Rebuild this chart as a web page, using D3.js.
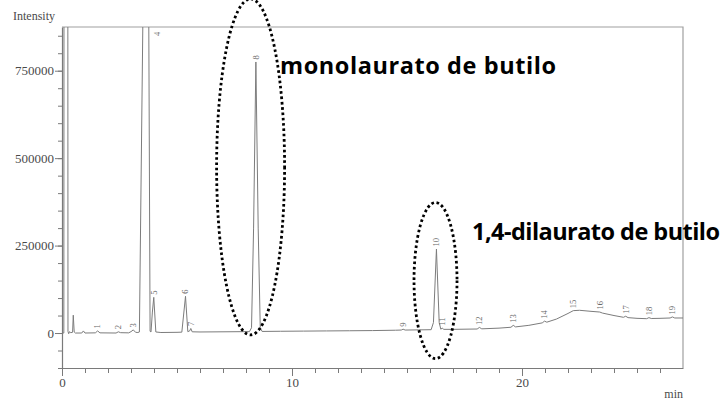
<!DOCTYPE html>
<html>
<head>
<meta charset="utf-8">
<script src="https://cdn.jsdelivr.net/npm/d3@7"></script>
<style>
  html, body { margin: 0; padding: 0; background: #fff; }
  svg { display: block; }
</style>
</head>
<body>
<svg id="chart" width="725" height="402"></svg>
<script>
// ---- data ----
// chromatogram trace: [retention time (min), intensity]
const trace = [
  [0.00, 0], [0.08, 0], [0.10, 3000000], [0.24, 3000000], [0.26, 5000],
  [0.29, -2000], [0.33, 4000], [0.38, 1000], [0.46, 2000], [0.49, 51000],
  [0.53, 3000], [0.58, 0], [0.86, 0], [0.93, 6000], [1.00, 0],
  [1.45, 500], [1.55, 6000], [1.65, 500], [2.35, 0], [2.45, 3500],
  [2.55, 1000], [2.90, 500], [3.00, 4000], [3.10, 9000], [3.20, 2000],
  [3.30, 1500], [3.365, 3000], [3.513, 875000], [3.60, 1500000], [3.70, 1500000],
  [3.774, 875000], [3.83, 5000], [3.87, 3000], [3.93, 60000], [3.99, 102000],
  [4.08, 3000], [4.30, 1500], [5.00, 2000], [5.21, 2500], [5.37, 105000],
  [5.47, 4000], [5.55, 6000], [5.60, 13000], [5.66, 3500], [6.00, 3000],
  [7.00, 3500], [8.00, 4000], [8.15, 4000], [8.24, 15000], [8.33, 300000],
  [8.43, 775000], [8.53, 300000], [8.62, 15000], [8.70, 4500], [9.50, 5000],
  [10.5, 5500], [11.5, 6000], [12.5, 6500], [13.5, 7000], [14.5, 8000],
  [14.75, 8500], [14.83, 11000], [14.92, 8500], [15.5, 9000], [16.05, 9500],
  [16.15, 30000], [16.28, 240000], [16.40, 30000], [16.47, 11000], [16.53, 14000],
  [16.60, 10500], [17.0, 10500], [18.05, 11500], [18.15, 16000], [18.25, 12000],
  [19.0, 14000], [19.52, 16500], [19.62, 22000], [19.72, 17500], [20.3, 22000],
  [20.88, 29000], [20.98, 34000], [21.08, 31000], [21.5, 40000], [22.0, 56000],
  [22.23, 64000], [22.5, 65000], [23.0, 62000], [23.38, 60000], [23.5, 57000],
  [24.0, 50000], [24.41, 45000], [24.51, 48000], [24.61, 44000], [25.0, 42000],
  [25.42, 41000], [25.52, 44000], [25.62, 41500], [26.0, 42000], [26.44, 43000],
  [26.54, 46000], [26.64, 43000], [27.0, 43000]
];
// peak numbers, retention times and apex intensities (null = off scale)
const peakNums    = ["1","2","3","4","5","6","7","8","9","10","11","12","13","14","15","16","17","18","19"];
const peakTimes   = [1.55, 2.45, 3.10, 3.65, 3.99, 5.37, 5.60, 8.43, 14.83, 16.28, 16.53, 18.15, 19.62, 20.98, 22.23, 23.38, 24.51, 25.52, 26.54];
const peakApex    = [6000, 3500, 9000, null, 102000, 105000, 13000, 775000, 11000, 240000, 14000, 16000, 22000, 34000, 64000, 60000, 48000, 44000, 46000];
// axes
const xDomain = [0, 27];
const yDomain = [-100000, 875000];
const xMajorTicks = [0, 10, 20];
const xMinorTicks = d3.range(0, 27, 1);
const yMajorTicks = [0, 250000, 500000, 750000];
const yMinorTicks = d3.range(-100000, 875000, 50000);
// annotations
const annotations = [
  { text: "monolaurato de butilo", width: 276 },
  { text: "1,4-dilaurato de butilo", width: 248 }
];

// ---- layout ----
const L = 62, R = 683, T = 27, B = 368;
const svg = d3.select("#chart");
const x = d3.scaleLinear().domain(xDomain).range([L, R]);
const y = d3.scaleLinear().domain(yDomain).range([B, T]);

const axisCol = "#7a7a7a";
const textCol = "#4a4a4a";
const serif = "Liberation Serif";

// frame (top + right)
svg.append("path")
  .attr("d", `M${L},${T}H${R}V${B}`)
  .attr("fill", "none").attr("stroke", "#a0a0a0").attr("stroke-width", 1.2);

// clip
svg.append("clipPath").attr("id", "clip")
  .append("rect").attr("x", L).attr("y", T).attr("width", R - L).attr("height", B - T);

function styleAxis(g) {
  g.attr("font-family", serif).attr("font-size", 13);
  g.select(".domain").attr("stroke", axisCol).attr("stroke-width", 1.2);
  g.selectAll(".tick line").attr("stroke", axisCol);
  g.selectAll("text").attr("fill", textCol);
}
// y axis
svg.append("g").attr("transform", `translate(${L},0)`)
  .call(d3.axisLeft(y).tickValues(yMinorTicks).tickSize(4).tickSizeOuter(0).tickFormat(""))
  .call(styleAxis);
svg.append("g").attr("transform", `translate(${L},0)`)
  .call(d3.axisLeft(y).tickValues(yMajorTicks).tickSize(7).tickSizeOuter(0).tickPadding(1).tickFormat(d3.format("d")))
  .call(styleAxis)
  .call(g => g.select(".domain").remove());

// x axis
svg.append("g").attr("transform", `translate(0,${B})`)
  .call(d3.axisBottom(x).tickValues(xMinorTicks).tickSize(5).tickSizeOuter(0).tickFormat(""))
  .call(styleAxis);
svg.append("g").attr("transform", `translate(0,${B})`)
  .call(d3.axisBottom(x).tickValues(xMajorTicks).tickSize(8).tickSizeOuter(0).tickPadding(2).tickFormat(d3.format("d")))
  .call(styleAxis)
  .call(g => g.select(".domain").remove());

// axis titles
svg.append("text").attr("font-family", serif).attr("x", 13).attr("y", 19.5).text("Intensity")
  .attr("font-size", 12).attr("fill", textCol);
svg.append("text").attr("font-family", serif).attr("x", R).attr("y", 398).attr("text-anchor", "end").text("min")
  .attr("font-size", 12).attr("fill", textCol);

// trace
svg.append("path")
  .datum(trace)
  .attr("clip-path", "url(#clip)")
  .attr("fill", "none")
  .attr("stroke", "#7c7c7c")
  .attr("stroke-width", 1)
  .attr("stroke-linejoin", "round")
  .attr("d", d3.line().x(d => x(d[0])).y(d => y(d[1])));

// peak labels (rotated)
const labels = svg.append("g").attr("font-family", serif).attr("font-size", 8.5);
peakNums.forEach((n, i) => {
  const px = peakApex[i] === null ? x(peakTimes[i]) + 11 : x(peakTimes[i]);
  const py = peakApex[i] === null ? T + 9 : y(peakApex[i]) - 2.5;
  labels.append("text")
    .attr("transform", `translate(${px},${py}) rotate(-90)`)
    .attr("dy", "0.33em")
    .attr("fill", "#666")
    .text(n);
});

// dotted ellipses
const ell = [
  { t: 8.20, v: 475000, rx: 34, ry: 168 },
  { t: 16.24, v: 150000, rx: 21.5, ry: 78 }
];
ell.forEach(e => {
  svg.append("ellipse")
    .attr("cx", x(e.t)).attr("cy", y(e.v))
    .attr("rx", e.rx).attr("ry", e.ry)
    .attr("fill", "none").attr("stroke", "#000")
    .attr("stroke-width", 2.8).attr("stroke-dasharray", "2.6 2.7");
});

// annotation texts
svg.append("text").attr("font-family", "Open Sans").attr("font-weight", 700).attr("x", 280).attr("y", 74)
  .attr("font-size", 23.5)
  .attr("textLength", annotations[0].width).attr("fill", "#000")
  .text(annotations[0].text);
svg.append("text").attr("font-family", "Open Sans").attr("font-weight", 700).attr("x", 472).attr("y", 240)
  .attr("font-size", 23.5)
  .attr("textLength", annotations[1].width).attr("fill", "#000")
  .text(annotations[1].text);
</script>
</body>
</html>
